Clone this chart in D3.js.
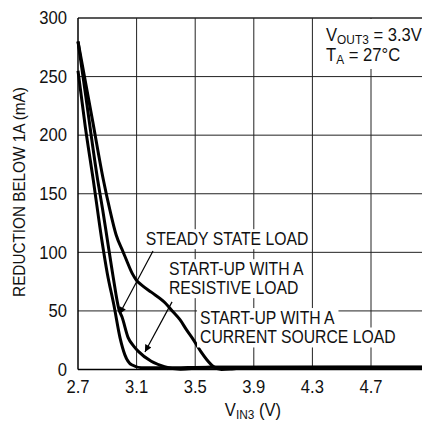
<!DOCTYPE html>
<html><head><meta charset="utf-8">
<script src="https://cdn.jsdelivr.net/npm/d3@7"></script>
<style>
html,body{margin:0;padding:0;background:#fff;}
svg{display:block;}
text{font-family:"Liberation Sans","Arial",sans-serif;fill:#111;}
</style></head>
<body>
<script>
// ---- data ----
const xTicks = [2.7, 3.1, 3.5, 3.9, 4.3, 4.7];
const xGrid = [3.1, 3.5, 3.9, 4.3, 4.7, 5.1];
const yTicks = [0, 50, 100, 150, 200, 250, 300];
const steadyState = [[2.7,255],[2.75,207],[2.804,162],[2.862,111],[2.9,82],[2.945,55],[2.987,27],[3.02,12.5],[3.066,4],[3.135,1.5],[3.3,1.5],[3.6,2],[5.1,2]];
const startResistive = [[2.7,280],[2.75,236],[2.834,162],[2.869,136],[2.9,111],[2.94,79],[2.98,51],[3.0,45],[3.043,27],[3.08,20],[3.112,15.5],[3.2,7],[3.29,2.5],[3.4,0.3],[3.5,1],[3.6,2],[5.1,2]];
const startCurrent = [[2.7,280],[2.8,212],[2.873,162],[2.918,136],[2.96,115],[3.009,100],[3.032,93],[3.07,82],[3.1,76],[3.135,72],[3.2,66],[3.294,57],[3.35,49],[3.396,42.5],[3.44,34],[3.487,25.5],[3.54,15],[3.578,8.5],[3.624,2.5],[3.68,0],[3.75,0.5],[3.85,1.8],[5.1,2]];
const seriesList = [steadyState, startResistive, startCurrent];
const labelLines = [
  {x:3.162, y:106.3, t:"STEADY STATE LOAD"},
  {x:3.321, y:80.7, t:"START-UP WITH A"},
  {x:3.321, y:64.5, t:"RESISTIVE LOAD"},
  {x:3.533, y:39.0, t:"START-UP WITH A"},
  {x:3.533, y:22.4, t:"CURRENT SOURCE LOAD"}
];
const arrows = [
  {x1:3.212, y1:101.2, x2:2.983, y2:47.4},
  {x1:3.342, y1:57.7, x2:3.157, y2:15}
];

const W = 422, H = 421;
const svg = d3.select("body").append("svg").attr("width", W).attr("height", H);
const x = d3.scaleLinear().domain([2.7, 5.1]).range([78, 429.6]);
const y = d3.scaleLinear().domain([0, 300]).range([369.5, 18]);
const SX = 0.9;

// grid
const g = svg.append("g");
g.selectAll("line.v").data(xGrid).join("line")
  .attr("x1", d=>x(d)).attr("x2", d=>x(d)).attr("y1", y(0)).attr("y2", y(300))
  .attr("stroke", "#222").attr("stroke-width", 1);
g.selectAll("line.h").data(yTicks.slice(1)).join("line")
  .attr("x1", x(2.7)).attr("x2", x(5.1)).attr("y1", d=>y(d)).attr("y2", d=>y(d))
  .attr("stroke", "#222").attr("stroke-width", d=> d===300 ? 1.5 : 1);

// axes lines
svg.append("line").attr("x1", x(2.7)).attr("x2", x(2.7)).attr("y1", y(0)).attr("y2", y(300)).attr("stroke","#000").attr("stroke-width",1.5);
svg.append("line").attr("x1", x(2.7)).attr("x2", x(5.1)).attr("y1", y(0)).attr("y2", y(0)).attr("stroke","#000").attr("stroke-width",1.5);

// tick labels
svg.selectAll("text.yt").data(yTicks).join("text")
  .attr("transform", d=>`translate(67,${y(d)}) scale(0.95,1)`).attr("dy","0.36em").attr("text-anchor","end")
  .attr("font-size", 17.5).text(d=>d);
svg.selectAll("text.xt").data(xTicks).join("text")
  .attr("transform", d=>`translate(${x(d)},393) scale(0.95,1)`).attr("text-anchor","middle")
  .attr("font-size", 17.5).text(d=>d.toFixed(1));

// axis titles
svg.append("text").attr("transform",`translate(25,192) rotate(-90) scale(${SX},1)`).attr("text-anchor","middle")
  .attr("font-size", 17).text("REDUCTION BELOW 1A (mA)");
const xt = svg.append("text").attr("transform","translate(253,416) scale(0.95,1)").attr("text-anchor","middle").attr("font-size", 17.5);
xt.append("tspan").text("V");
xt.append("tspan").attr("font-size", 12.5).attr("dy", 3).text("IN3");
xt.append("tspan").attr("dy", -3).text(" (V)");

// annotation top-right
svg.append("rect").attr("x", x(4.35)).attr("y", y(300)+1).attr("width", 110).attr("height", 50).attr("fill","#fff");
const a1 = svg.append("text").attr("transform",`translate(${x(4.393)},41) scale(0.95,1)`).attr("font-size", 17.5);
a1.append("tspan").text("V");
a1.append("tspan").attr("font-size", 12.5).attr("dy", 3).text("OUT3");
a1.append("tspan").attr("dy", -3).text(" = 3.3V");
const a2 = svg.append("text").attr("transform",`translate(${x(4.393)},61) scale(0.95,1)`).attr("font-size", 17.5);
a2.append("tspan").text("T");
a2.append("tspan").attr("font-size", 12.5).attr("dy", 3).text("A");
a2.append("tspan").attr("dy", -3).text(" = 27°C");

// curves
const line = d3.line().x(d=>x(d[0])).y(d=>y(d[1])).curve(d3.curveMonotoneX);
svg.selectAll("path.s").data(seriesList).join("path")
  .attr("d", line).attr("fill","none").attr("stroke","#000").attr("stroke-width",3)
  .attr("stroke-linejoin","round");

// labels with white backgrounds
const lg = svg.append("g");
labelLines.forEach(l=>{
  const px = x(l.x), py = y(l.y);
  const t = lg.append("text").attr("transform",`translate(${px},${py}) scale(${SX},1)`).attr("font-size", 17.5).text(l.t);
  const bb = t.node().getBBox();
  lg.insert("rect","text").attr("x", px + bb.x*SX - 3).attr("y", py + bb.y).attr("width", bb.width*SX + 6).attr("height", bb.height).attr("fill","#fff");
});

// arrows
svg.append("defs").append("marker").attr("id","ah").attr("viewBox","0 0 10 10")
  .attr("refX",10).attr("refY",5).attr("markerWidth",12).attr("markerHeight",7)
  .attr("markerUnits","userSpaceOnUse").attr("orient","auto")
  .append("path").attr("d","M0,0 L10,5 L0,10 Z").attr("fill","#000");
svg.selectAll("line.ar").data(arrows).join("line")
  .attr("x1", d=>x(d.x1)).attr("y1", d=>y(d.y1)).attr("x2", d=>x(d.x2)).attr("y2", d=>y(d.y2))
  .attr("stroke","#000").attr("stroke-width",1.2).attr("marker-end","url(#ah)");
</script>
</body></html>
